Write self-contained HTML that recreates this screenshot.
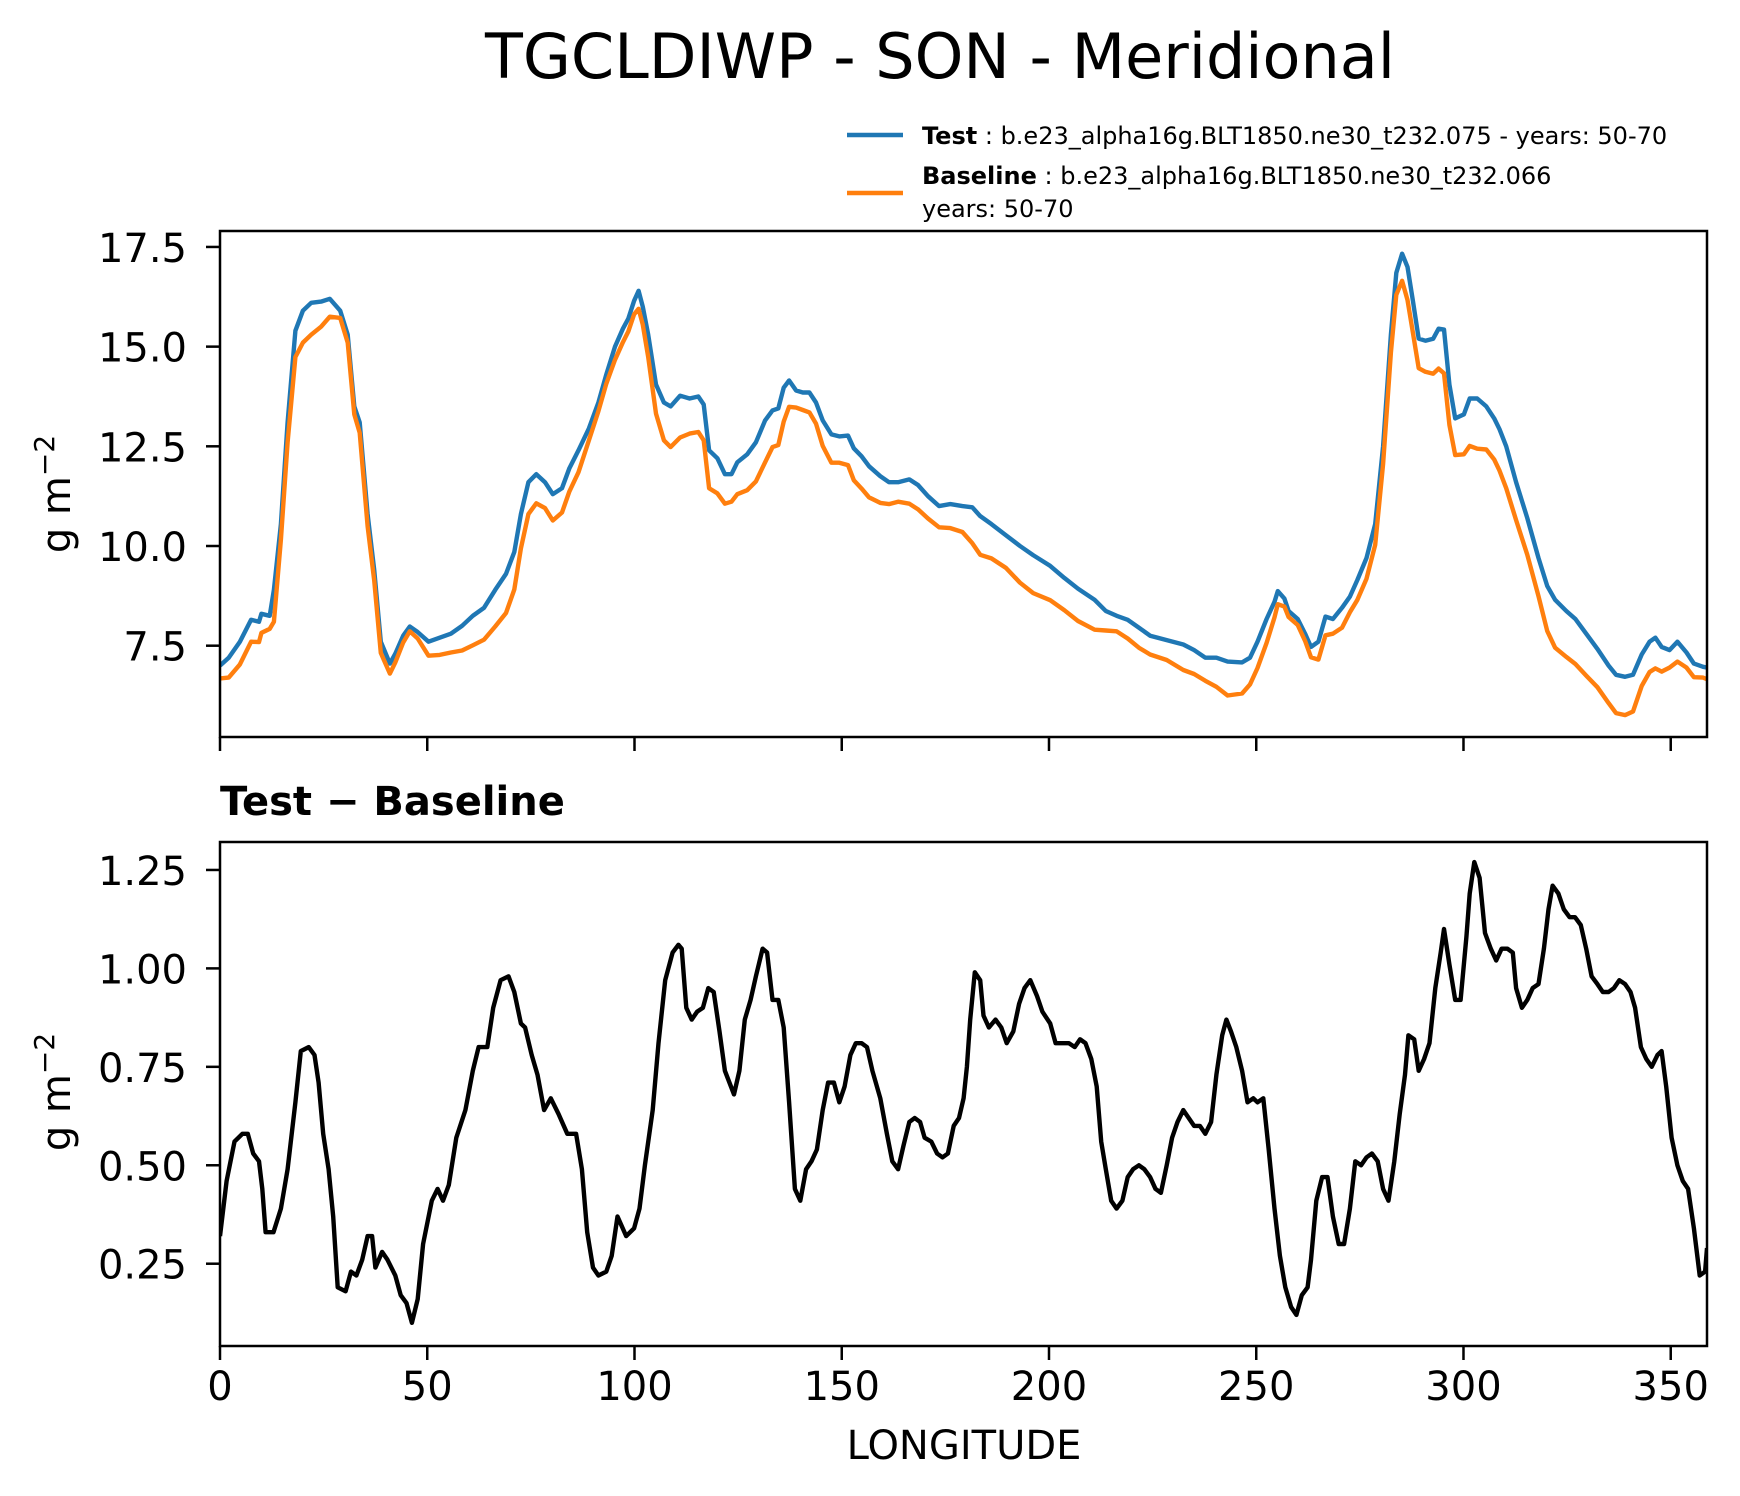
<!DOCTYPE html>
<html><head><meta charset="utf-8"><title>TGCLDIWP - SON - Meridional</title>
<style>
html,body{margin:0;padding:0;background:#fff;}
svg{display:block;font-family:"DejaVu Sans","Liberation Sans",sans-serif;}
</style></head>
<body>
<svg id="chart" xmlns="http://www.w3.org/2000/svg" width="1740" height="1496" viewBox="0 0 1740 1496">
<rect width="1740" height="1496" fill="#fff"/>
<text x="940" y="78" font-size="62" text-anchor="middle">TGCLDIWP - SON - Meridional</text>
<g>
<line x1="847" y1="135" x2="903" y2="135" stroke="#1f77b4" stroke-width="4.4"/>
<text x="922" y="144" font-size="24"><tspan font-weight="bold">Test</tspan> : b.e23_alpha16g.BLT1850.ne30_t232.075 - years: 50-70</text>
<line x1="847" y1="193" x2="903" y2="193" stroke="#ff7f0e" stroke-width="4.4"/>
<text x="922" y="184" font-size="24"><tspan font-weight="bold">Baseline</tspan> : b.e23_alpha16g.BLT1850.ne30_t232.066</text>
<text x="922" y="217" font-size="24">years: 50-70</text>
</g>
<text x="220" y="815" font-size="40" font-weight="bold">Test − Baseline</text>
<text transform="translate(70,494) rotate(-90)" font-size="40" text-anchor="middle">g m<tspan dy="-16" font-size="28">−2</tspan></text>
<text transform="translate(70,1092) rotate(-90)" font-size="40" text-anchor="middle">g m<tspan dy="-16" font-size="28">−2</tspan></text>
<text x="964" y="1459" font-size="40" text-anchor="middle">LONGITUDE</text>
<g id="top"></g>
<g id="bot"></g>
</svg>
<script>
const testLon = [0,2.1,4.8,7.5,9.4,10,12,13,14.7,16.3,18.2,20,22,24.4,26.5,29,30.8,32.4,33.7,35.6,37.2,38.8,41,42.3,44.2,45.8,47.7,50.3,53,55.7,58.4,61,63.7,66.4,69,71,72.6,74.4,76.3,78.4,80.3,82.5,84.3,86.5,89,91.3,93.2,95.3,97.2,98.5,99.9,101,102,103.3,105.2,107.1,108.7,111,113.3,115.4,116.7,118,120,121.8,123.4,124.8,127.2,129.3,131.5,133.3,134.7,136,137.3,139,140.6,142.2,143.8,145.4,147.5,149.4,151.5,152.9,154.8,156.6,159.3,161.4,163.6,166.3,168.4,170.8,173.5,176.2,179.1,181.5,183.4,186.1,189.6,193,196.2,200.3,203.7,207,211,213.7,216.3,219,221.7,224.4,228.4,232.4,235,237.7,240.4,243.1,246.6,248.5,250.3,252.5,254.4,255.2,256.8,257.8,260,261.8,263.2,265,266.7,268.5,270.7,272.6,274.4,276.6,278.7,280.6,282.5,283.8,285.2,286.5,287.8,289.2,290.8,292.7,294,295.3,296.6,298,300.1,301.5,303.3,305.5,307.4,308.7,310.3,312.7,315.4,318.1,320.2,322.1,324.8,327,329.6,332.3,335,336.8,339,340.9,343,344.9,346.3,347.8,349.7,351.6,353.8,355.6,357.8,358.75];
const testVals = [7.0,7.2,7.6,8.15,8.1,8.3,8.25,8.9,10.55,13.1,15.4,15.9,16.1,16.13,16.2,15.9,15.3,13.5,13.1,10.8,9.4,7.6,7.05,7.3,7.75,7.98,7.84,7.6,7.7,7.8,8.0,8.25,8.45,8.9,9.3,9.85,10.8,11.6,11.8,11.6,11.3,11.45,11.95,12.4,12.95,13.6,14.3,15.0,15.45,15.7,16.15,16.4,16.0,15.3,14.05,13.6,13.5,13.77,13.7,13.75,13.55,12.4,12.2,11.8,11.8,12.1,12.3,12.6,13.15,13.4,13.45,13.97,14.15,13.9,13.85,13.85,13.6,13.15,12.8,12.75,12.77,12.45,12.25,12.0,11.75,11.6,11.6,11.67,11.53,11.25,11.0,11.05,11.0,10.97,10.75,10.55,10.27,10.0,9.77,9.5,9.2,8.93,8.65,8.37,8.25,8.15,7.95,7.75,7.64,7.53,7.39,7.2,7.2,7.1,7.08,7.2,7.6,8.17,8.6,8.87,8.68,8.37,8.17,7.8,7.47,7.6,8.23,8.17,8.45,8.73,9.15,9.7,10.55,12.5,15.3,16.85,17.33,17.0,16.15,15.2,15.15,15.2,15.45,15.43,14.05,13.2,13.3,13.7,13.7,13.5,13.2,12.93,12.5,11.6,10.7,9.7,9.0,8.65,8.37,8.17,7.8,7.42,7.0,6.77,6.72,6.77,7.28,7.6,7.7,7.47,7.39,7.6,7.33,7.05,6.97,6.95];
const baseVals = [6.68,6.7,7.03,7.6,7.59,7.82,7.92,8.1,10.16,12.6,14.74,15.1,15.3,15.5,15.75,15.72,15.1,13.3,12.84,10.5,9.14,7.32,6.8,7.08,7.58,7.86,7.68,7.25,7.27,7.33,7.38,7.51,7.65,7.98,8.32,8.91,9.94,10.8,11.07,10.95,10.64,10.84,11.37,11.85,12.65,13.38,14.07,14.67,15.11,15.38,15.81,15.95,15.55,14.74,13.32,12.65,12.48,12.72,12.82,12.86,12.65,11.45,11.32,11.06,11.11,11.3,11.4,11.62,12.1,12.48,12.53,13.12,13.49,13.47,13.41,13.35,13.07,12.51,12.09,12.09,12.03,11.65,11.44,11.22,11.08,11.05,11.11,11.06,10.92,10.69,10.47,10.45,10.35,10.07,9.78,9.69,9.45,9.08,8.82,8.64,8.39,8.12,7.9,7.88,7.86,7.68,7.45,7.28,7.14,6.89,6.79,6.62,6.47,6.25,6.3,6.53,6.94,7.57,8.21,8.54,8.48,8.22,8.02,7.62,7.21,7.15,7.76,7.8,7.95,8.34,8.65,9.18,10.03,12.06,14.85,16.3,16.65,16.17,15.35,14.46,14.37,14.32,14.45,14.33,13.04,12.28,12.3,12.51,12.44,12.42,12.17,11.89,11.45,10.65,9.78,8.74,7.87,7.45,7.22,7.04,6.75,6.46,6.06,5.81,5.76,5.85,6.49,6.84,6.93,6.85,6.95,7.1,6.95,6.71,6.7,6.66];
const diffLon = [0,1.6,3.5,5.4,6.7,8,9.4,10.2,11,12.9,14.7,16.3,18.2,19.5,21.4,22.8,23.8,24.9,26.2,27.3,28.4,30.3,31.6,32.9,34.3,35.6,36.7,37.5,39.1,40.4,42.3,43.6,45,46.3,47.7,49,51.1,52.5,53.8,55.2,57,59.2,61,62.4,64.5,65.9,67.7,69.6,71,72.6,73.6,75.2,76.6,78.2,79.8,81.7,83.8,85.9,87.3,88.6,90,91.3,93.2,94.5,95.9,98,99.9,101.2,102.5,104.4,105.8,107.4,109.2,110.6,111.4,112.5,113.8,115.1,116.5,117.8,119.1,120.5,121.8,124,125.3,126.6,128,129.3,130.9,132,133.3,134.7,136,137.3,138.7,140,141.4,142.7,144,145.4,146.7,148.1,149.4,150.7,152.1,153.4,154.8,156.1,157.4,159.3,160.9,162.2,163.6,164.9,166.3,167.6,168.9,170,171.6,173,174.3,175.6,177,178.3,179.4,180.2,181,182.1,183.4,184.2,185.5,187.1,188.5,189.8,191.4,192.8,194.1,195.5,197.1,198.4,200.3,201.6,203,204.8,206.2,207.5,208.8,210.2,211.5,212.6,213.7,215,216.3,217.7,219,220.3,221.7,223,224.4,225.7,227,228.4,229.7,231,232.4,233.7,235,236.4,237.7,239.1,240.4,241.8,242.8,243.9,245.2,246.6,247.9,249.3,250.3,251.7,253,254.4,255.7,257,258.4,259.7,261,262.4,263.2,264.5,265.9,267.2,268.5,269.9,271.2,272.6,273.9,275.3,276.6,277.9,279.3,280.6,281.9,283.3,284.6,285.9,286.7,288.1,289.2,290.5,291.8,293.2,294.5,295.3,296.6,298,299.3,300.7,301.5,302.6,303.9,305.2,306.6,307.9,309.2,310.6,311.9,312.7,314.1,315.4,316.7,318.1,319.4,320.5,321.5,322.9,324.2,325.6,326.9,328.3,329.6,330.9,332.3,333.6,335,336.3,337.6,339,340.3,341.4,342.8,344.1,345.4,346.8,347.8,348.9,350.2,351.6,352.9,354.2,355.6,357,358.3,358.75];
const diffVals = [0.32,0.46,0.56,0.58,0.58,0.53,0.51,0.44,0.33,0.33,0.39,0.49,0.66,0.79,0.80,0.78,0.71,0.58,0.49,0.37,0.19,0.18,0.23,0.22,0.26,0.32,0.32,0.24,0.28,0.26,0.22,0.17,0.15,0.10,0.16,0.30,0.41,0.44,0.41,0.45,0.57,0.64,0.74,0.80,0.80,0.90,0.97,0.98,0.94,0.86,0.85,0.78,0.73,0.64,0.67,0.63,0.58,0.58,0.49,0.33,0.24,0.22,0.23,0.27,0.37,0.32,0.34,0.39,0.50,0.64,0.81,0.97,1.04,1.06,1.05,0.90,0.87,0.89,0.90,0.95,0.94,0.84,0.74,0.68,0.74,0.87,0.92,0.98,1.05,1.04,0.92,0.92,0.85,0.66,0.44,0.41,0.49,0.51,0.54,0.64,0.71,0.71,0.66,0.70,0.78,0.81,0.81,0.80,0.74,0.67,0.58,0.51,0.49,0.55,0.61,0.62,0.61,0.57,0.56,0.53,0.52,0.53,0.60,0.62,0.67,0.75,0.87,0.99,0.97,0.88,0.85,0.87,0.85,0.81,0.84,0.91,0.95,0.97,0.93,0.89,0.86,0.81,0.81,0.81,0.80,0.82,0.81,0.77,0.70,0.56,0.49,0.41,0.39,0.41,0.47,0.49,0.50,0.49,0.47,0.44,0.43,0.50,0.57,0.61,0.64,0.62,0.60,0.60,0.58,0.61,0.73,0.83,0.87,0.84,0.80,0.74,0.66,0.67,0.66,0.67,0.54,0.39,0.27,0.19,0.14,0.12,0.17,0.19,0.26,0.41,0.47,0.47,0.37,0.30,0.30,0.39,0.51,0.50,0.52,0.53,0.51,0.44,0.41,0.51,0.63,0.73,0.83,0.82,0.74,0.77,0.81,0.95,1.04,1.10,1.01,0.92,0.92,1.08,1.19,1.27,1.23,1.09,1.05,1.02,1.05,1.05,1.04,0.95,0.90,0.92,0.95,0.96,1.05,1.15,1.21,1.19,1.15,1.13,1.13,1.11,1.05,0.98,0.96,0.94,0.94,0.95,0.97,0.96,0.94,0.90,0.80,0.77,0.75,0.78,0.79,0.70,0.57,0.50,0.46,0.44,0.34,0.22,0.23,0.29];
const xTicks = [0,50,100,150,200,250,300,350];
const topYTicks = [7.5,10.0,12.5,15.0,17.5];
const botYTicks = [0.25,0.50,0.75,1.00,1.25];

const NS='http://www.w3.org/2000/svg';
const X0=220, X1=1707, XMIN=0, XMAX=358.75;
function xs(v){return X0+(v-XMIN)/(XMAX-XMIN)*(X1-X0);}
function mk(tag,attrs,parent){const e=document.createElementNS(NS,tag);for(const k in attrs)e.setAttribute(k,attrs[k]);parent.appendChild(e);return e;}

function panel(g,top,bot,ymin,ymax,ticks,fmt,showXLabels,prefix){
  const ys=v=>bot-(v-ymin)/(ymax-ymin)*(bot-top);
  ticks.forEach(t=>{
    const tl=mk('line',{x1:X0-14,x2:X0,y1:ys(t),y2:ys(t),stroke:'#000','stroke-width':2.5},g);
    
    
    const tx=mk('text',{x:X0-33,y:ys(t)+15,'font-size':40,'text-anchor':'end'},g);
    tx.textContent=t.toFixed(fmt);
    
    
  });
  xTicks.forEach(t=>{
    const tl=mk('line',{x1:xs(t),x2:xs(t),y1:bot,y2:bot+14,stroke:'#000','stroke-width':2.5},g);
    
    
    if(showXLabels){
      const tx=mk('text',{x:xs(t),y:bot+54,'font-size':40,'text-anchor':'middle'},g);
      tx.textContent=String(t);
      
      
    }
  });
  return ys;
}
function series(g,lons,vals,ys,color,name,top,bot){
  const cid='clip-'+name;
  const cp=mk('clipPath',{id:cid},g);
  mk('rect',{x:X0,y:top,width:X1-X0,height:bot-top},cp);
  const d=lons.map((l,i)=>(i?'L':'M')+xs(l).toFixed(1)+','+ys(vals[i]).toFixed(1)).join('');
  const p=mk('path',{d:d,fill:'none',stroke:color,'stroke-width':4.4,'stroke-linejoin':'round','clip-path':'url(#'+cid+')'},g);
  
  
}
function frame(g,top,bot,prefix){
  const r=mk('rect',{x:X0,y:top,width:X1-X0,height:bot-top,fill:'none',stroke:'#000','stroke-width':2.5},g);
  
  
}
const gt=document.getElementById('top');
const T0=231,T1=737;
const ysT=panel(gt,T0,T1,5.21,17.9,topYTicks,1,false,'top');
series(gt,testLon,testVals,ysT,'#1f77b4','test-line',T0,T1);
series(gt,testLon,baseVals,ysT,'#ff7f0e','baseline-line',T0,T1);
frame(gt,T0,T1,'top');
const gb=document.getElementById('bot');
const B0=842,B1=1346;
const ysB=panel(gb,B0,B1,0.041,1.321,botYTicks,2,true,'bottom');
series(gb,diffLon,diffVals,ysB,'#000','difference-line',B0,B1);
frame(gb,B0,B1,'bottom');
</script>
</body></html>
